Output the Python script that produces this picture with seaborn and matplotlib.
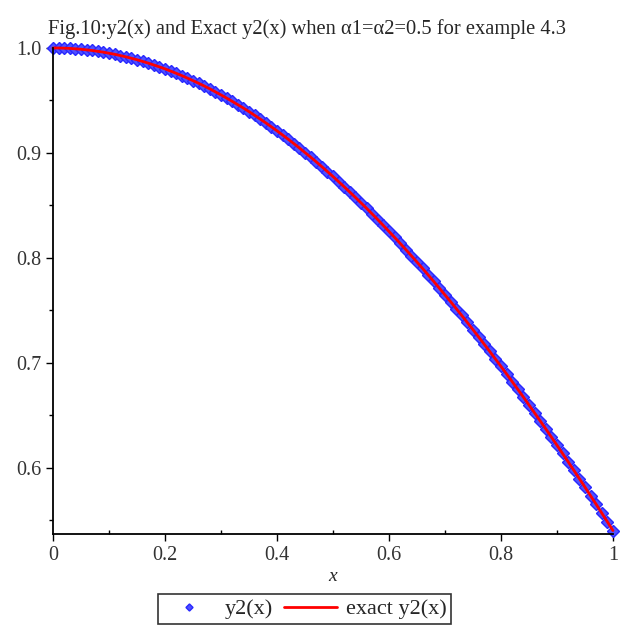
import matplotlib
matplotlib.use("Agg")
import matplotlib.pyplot as plt
import seaborn as sns
import pandas as pd
from matplotlib.ticker import MultipleLocator, FixedLocator

sns.set_theme(style="white")
plt.rcParams['font.family'] = ['Liberation Serif', 'DejaVu Serif']

x_vals = [0.00, 0.01, 0.02, 0.03, 0.04, 0.05, 0.06, 0.07, 0.08, 0.09,
          0.10, 0.11, 0.12, 0.13, 0.14, 0.15, 0.16, 0.17, 0.18, 0.19,
          0.20, 0.21, 0.22, 0.23, 0.24, 0.25, 0.26, 0.27, 0.28, 0.29,
          0.30, 0.31, 0.32, 0.33, 0.34, 0.35, 0.36, 0.37, 0.38, 0.39,
          0.40, 0.41, 0.42, 0.43, 0.44, 0.45, 0.46, 0.47, 0.48, 0.49,
          0.50, 0.51, 0.52, 0.53, 0.54, 0.55, 0.56, 0.57, 0.58, 0.59,
          0.60, 0.61, 0.62, 0.63, 0.64, 0.65, 0.66, 0.67, 0.68, 0.69,
          0.70, 0.71, 0.72, 0.73, 0.74, 0.75, 0.76, 0.77, 0.78, 0.79,
          0.80, 0.81, 0.82, 0.83, 0.84, 0.85, 0.86, 0.87, 0.88, 0.89,
          0.90, 0.91, 0.92, 0.93, 0.94, 0.95, 0.96, 0.97, 0.98, 0.99, 1.00]
y2_approx = [1.0000, 1.0000, 0.9998, 0.9996, 0.9992, 0.9988, 0.9982, 0.9976, 0.9968, 0.9960,
             0.9950, 0.9940, 0.9928, 0.9916, 0.9902, 0.9888, 0.9872, 0.9856, 0.9838, 0.9820,
             0.9801, 0.9780, 0.9759, 0.9737, 0.9713, 0.9689, 0.9664, 0.9638, 0.9611, 0.9582,
             0.9553, 0.9523, 0.9492, 0.9460, 0.9428, 0.9394, 0.9359, 0.9323, 0.9287, 0.9249,
             0.9211, 0.9171, 0.9131, 0.9090, 0.9048, 0.9004, 0.8961, 0.8916, 0.8870, 0.8823,
             0.8776, 0.8727, 0.8678, 0.8628, 0.8577, 0.8525, 0.8473, 0.8419, 0.8365, 0.8309,
             0.8253, 0.8196, 0.8139, 0.8080, 0.8021, 0.7961, 0.7900, 0.7838, 0.7776, 0.7712,
             0.7648, 0.7584, 0.7518, 0.7452, 0.7385, 0.7317, 0.7248, 0.7179, 0.7109, 0.7038,
             0.6967, 0.6895, 0.6822, 0.6749, 0.6675, 0.6600, 0.6524, 0.6448, 0.6372, 0.6294,
             0.6216, 0.6137, 0.6058, 0.5978, 0.5898, 0.5817, 0.5735, 0.5653, 0.5570, 0.5487, 0.5403]
y2_exact = list(y2_approx)

x_ticks = [0, 0.2, 0.4, 0.6, 0.8, 1]
x_tick_labels = ["0", "0.2", "0.4", "0.6", "0.8", "1"]
y_ticks = [0.6, 0.7, 0.8, 0.9, 1.0]
y_tick_labels = ["0.6", "0.7", "0.8", "0.9", "1.0"]

title = "Fig.10:y2(x) and Exact y2(x) when α1=α2=0.5 for example 4.3"

df = pd.DataFrame({"x": x_vals, "approx": y2_approx, "exact": y2_exact})

fig = plt.figure(figsize=(6.21, 6.28), dpi=100)
ax = fig.add_axes([0.0853, 0.1497, 0.9017, 0.7739])

sns.lineplot(data=df, x="x", y="approx", ax=ax, linestyle="none", marker="D",
             markersize=6, markerfacecolor="#5050ff", markeredgecolor="#2828ff",
             markeredgewidth=1.0, label="y2(x)", clip_on=False)
sns.lineplot(data=df, x="x", y="exact", ax=ax, color="#ff0000", linewidth=2.0,
             label="exact y2(x)", clip_on=False)

ax.set_xlim(0, 1)
ax.set_ylim(0.537, 1.0)
ax.xaxis.set_major_locator(FixedLocator(x_ticks))
ax.set_xticklabels(x_tick_labels)
ax.yaxis.set_major_locator(FixedLocator(y_ticks))
ax.set_yticklabels(y_tick_labels)
ax.xaxis.set_minor_locator(MultipleLocator(0.1))
ax.yaxis.set_minor_locator(MultipleLocator(0.05))

for s in ["top", "right"]:
    ax.spines[s].set_visible(False)
for s in ["left", "bottom"]:
    ax.spines[s].set_color("black")
    ax.spines[s].set_linewidth(1.3)

ax.tick_params(axis="both", which="major", direction="out", length=5, width=1,
               colors="black", labelsize=14.5, labelcolor="#333333", left=True, bottom=True)
ax.tick_params(axis="both", which="minor", direction="out", length=3, width=1,
               colors="black", left=True, bottom=True)
ax.tick_params(axis="x", which="minor", direction="in")

ax.set_xlabel("x", fontsize=14, style="italic", labelpad=2)
ax.set_ylabel("")
fig.text(0.495, 0.953, title, fontsize=14.8, ha="center", va="center")

ax.get_legend().remove()
handles, labels = ax.get_legend_handles_labels()
leg = fig.legend(handles, labels, loc="center", bbox_to_anchor=(0.49, 0.030),
                 ncol=2, frameon=True, fancybox=False, edgecolor="black",
                 fontsize=16, handlelength=2.4, columnspacing=0.5, borderpad=0.2,
                 handletextpad=0.4, markerscale=0.6)
leg.get_frame().set_linewidth(1.2)

fig.savefig("out.png", dpi=100)
